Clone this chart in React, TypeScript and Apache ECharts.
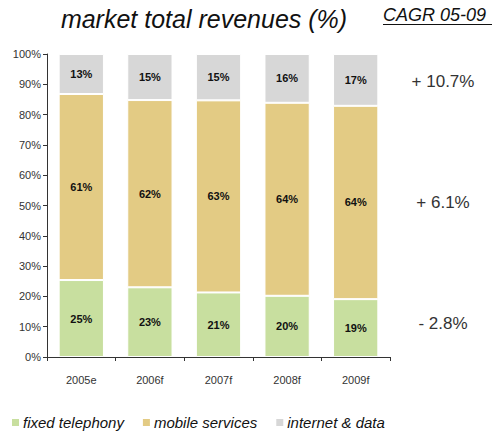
import React, { useEffect, useRef } from "react";
import * as echarts from "echarts";

const categories = ["2005e", "2006f", "2007f", "2008f", "2009f"];
const fixedTelephony = [25.4, 23.0, 21.3, 20.2, 19.1];
const mobileServices = [61.4, 61.8, 63.4, 63.7, 63.8];
const internetData = [13.2, 15.2, 15.3, 16.1, 17.1];
const yTicks = [0, 10, 20, 30, 40, 50, 60, 70, 80, 90, 100];
const cagrLabels = ["+ 10.7%", "+ 6.1%", "- 2.8%"];
const cagrYValues = [91, 51, 11];

const FONT = "'Liberation Sans', Arial, Helvetica, sans-serif";

export default function App() {
  const ref = useRef<HTMLDivElement>(null);
  useEffect(() => {
    if (!ref.current) return;
    const chart = echarts.init(ref.current, undefined, { renderer: "svg" });
    const gridTop = 54;
    const gridBottom = 77;
    const plotH = 434 - gridTop - gridBottom;
    const mkSeries = (name: string, data: number[], color: string) => ({
      name,
      type: "bar",
      stack: "total",
      data,
      barWidth: "66%",
      itemStyle: { color, borderColor: "#ffffff", borderWidth: 1 },
      label: {
        show: true,
        position: "inside",
        formatter: (p: any) => Math.round(p.value) + "%",
        color: "#111",
        fontWeight: "bold",
        fontSize: 11,
        fontFamily: FONT,
      },
      emphasis: { disabled: true },
    });
    chart.setOption({
      animation: false,
      textStyle: { fontFamily: FONT },
      grid: { left: 47, right: 103, top: gridTop, bottom: gridBottom, containLabel: false },
      legend: {
        left: 5,
        top: 410,
        itemWidth: 9,
        itemHeight: 9,
        itemGap: 17,
        icon: "rect",
        textStyle: { fontStyle: "italic", fontSize: 15, color: "#111", fontFamily: FONT, padding: [0, 0, 0, -2] },
        data: ["fixed telephony", "mobile services", "internet & data"],
      },
      xAxis: {
        type: "category",
        data: categories,
        axisLine: { lineStyle: { color: "#333", width: 1 } },
        axisTick: { show: true, length: 4, lineStyle: { color: "#333" } },
        axisLabel: { color: "#333", fontSize: 11, margin: 17, fontFamily: FONT },
      },
      yAxis: {
        type: "value",
        min: 0,
        max: 100,
        interval: 10,
        splitLine: { show: false },
        axisLine: { show: true, lineStyle: { color: "#333", width: 1 } },
        axisTick: { show: true, length: 4, lineStyle: { color: "#333" } },
        axisLabel: {
          color: "#333",
          fontSize: 11,
          margin: 6,
          fontFamily: FONT,
          formatter: (v: number) => (yTicks.includes(v) ? v + "%" : ""),
        },
      },
      series: [
        mkSeries("fixed telephony", fixedTelephony, "#c8df9f"),
        mkSeries("mobile services", mobileServices, "#e3cb84"),
        mkSeries("internet & data", internetData, "#d7d7d7"),
      ],
      graphic: [
        {
          type: "text",
          x: 204,
          y: 19,
          style: {
            text: "market total revenues (%)",
            fontSize: 25,
            fontStyle: "italic",
            fill: "#111",
            fontFamily: FONT,
            align: "center",
            verticalAlign: "middle",
          },
        },
        {
          type: "text",
          x: 383,
          y: 15,
          style: {
            text: "CAGR 05-09",
            fontSize: 18,
            fontStyle: "italic",
            fill: "#111",
            fontFamily: FONT,
            verticalAlign: "middle",
          },
        },
        {
          type: "line",
          shape: { x1: 383, y1: 24.5, x2: 492, y2: 24.5 },
          style: { stroke: "#111", lineWidth: 1 },
        },
        ...cagrLabels.map((t, i) => ({
          type: "text",
          x: 443,
          y: gridTop + plotH * (1 - cagrYValues[i] / 100),
          style: {
            text: t,
            fontSize: 17,
            fill: "#333",
            fontFamily: FONT,
            align: "center",
            verticalAlign: "middle",
          },
        })),
      ],
    });
    return () => chart.dispose();
  }, []);
  return <div ref={ref} style={{ width: 493, height: 434, position: "absolute", left: 0, top: 0 }} />;
}
